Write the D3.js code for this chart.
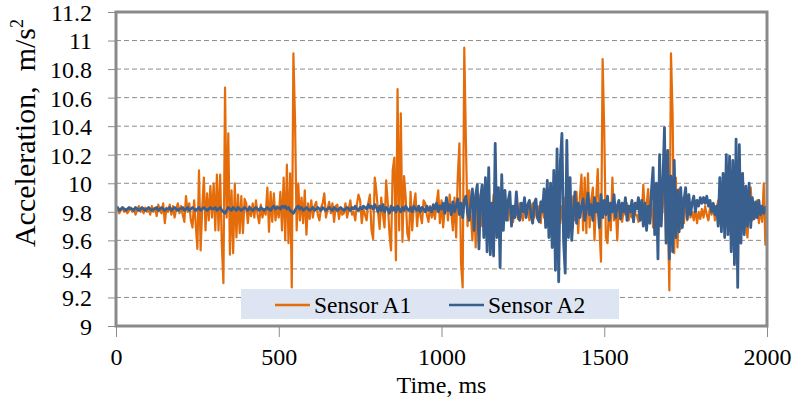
<!DOCTYPE html>
<html>
<head>
<meta charset="utf-8">
<style>
  body { margin: 0; background: #fff; }
</style>
<title>Acceleration</title>
</head>
<body>
<script src="https://cdn.jsdelivr.net/npm/d3@7"></script>
<script>
// sample step of both records, ms
var stepMs = 5;

var xTicks = [0, 500, 1000, 1500, 2000];
var yTicks = [9, 9.2, 9.4, 9.6, 9.8, 10, 10.2, 10.4, 10.6, 10.8, 11, 11.2];
var seriesNames = ["Sensor A1", "Sensor A2"];

// Sensor A1, m/s2, one value every 5 ms from 0 to 2000 ms
var sensorA1 = [
  9.80,9.82,9.79,9.81,9.83,9.80,9.82,9.79,9.81,9.83,9.80,9.82,9.78,9.81,9.84,9.80,9.82,9.79,9.83,9.80,
  9.82,9.78,9.84,9.80,9.83,9.77,9.85,9.81,9.79,9.86,9.72,9.83,9.80,9.85,9.78,9.84,9.76,9.82,9.86,9.79,
  9.84,9.78,9.73,9.91,9.80,9.86,9.74,9.69,9.88,9.71,9.54,10.09,9.53,9.83,10.04,9.67,9.93,9.74,9.98,9.76,
  10.00,9.67,10.06,9.67,10.06,9.58,9.30,10.67,9.76,10.35,9.50,9.95,9.51,10.00,9.62,9.92,9.65,9.91,9.65,9.89,
  9.86,9.72,9.84,9.77,9.86,9.76,9.88,9.78,9.72,9.85,9.76,9.82,9.78,9.97,9.66,9.94,9.73,9.93,9.74,9.84,
  9.76,9.94,9.67,10.04,9.60,10.13,9.58,10.07,9.27,10.91,10.44,9.67,10.00,9.74,9.90,9.72,9.95,9.64,9.86,9.75,
  9.88,9.76,9.84,9.87,9.78,9.74,9.83,9.86,9.93,9.76,9.82,9.87,9.79,9.86,9.73,9.84,9.85,9.75,9.83,9.78,
  9.79,9.86,9.76,9.82,9.88,9.78,9.80,9.74,9.85,9.92,9.88,9.72,9.82,9.78,9.74,9.86,9.92,9.67,9.61,10.04,
  9.94,9.80,9.68,9.90,9.78,9.69,10.02,9.86,9.65,9.53,10.09,10.18,9.46,10.66,9.67,10.49,9.59,10.05,9.90,9.65,
  9.60,9.94,9.67,9.85,9.93,9.70,9.84,9.78,9.72,9.88,9.86,9.78,9.73,9.84,9.76,9.82,9.75,9.86,9.95,9.72,
  9.88,9.69,9.82,9.90,9.74,9.92,9.80,9.67,9.90,9.62,10.05,10.28,9.44,9.27,10.95,10.29,9.70,9.95,9.78,9.60,
  9.90,9.55,9.86,9.72,9.92,9.70,9.85,9.76,9.90,9.68,9.84,9.78,9.92,9.72,9.86,9.74,9.88,9.70,9.84,9.77,
  9.82,9.74,9.86,9.78,9.73,9.84,9.80,9.75,9.86,9.79,9.74,9.83,9.78,9.85,9.74,9.80,9.86,9.76,9.82,9.75,
  9.84,9.72,9.88,9.76,9.90,9.70,9.86,9.74,9.92,9.68,9.85,9.76,9.88,9.72,9.84,9.70,9.90,9.74,9.86,9.72,
  9.80,9.91,9.74,9.94,9.65,9.90,10.06,9.67,10.04,9.65,10.07,9.69,9.88,9.97,9.60,9.88,10.10,9.70,9.45,10.87,
  10.36,9.62,9.58,9.86,9.67,10.04,9.74,9.84,9.60,9.86,9.76,9.73,9.82,9.78,9.86,9.74,9.80,9.76,9.85,9.78,
  9.78,9.73,9.86,9.76,9.99,9.77,9.85,9.96,9.74,9.86,9.69,9.88,9.74,9.67,9.90,9.72,9.84,10.09,9.58,9.86,
  9.25,10.91,10.48,9.51,10.04,9.55,9.96,9.68,9.90,9.72,9.92,9.74,9.86,9.76,9.80,9.74,9.82,9.72,9.80,9.75,
  9.82,9.76,9.84,9.78,9.74,9.83,9.78,9.85,9.74,9.82,9.88,9.72,9.84,9.76,9.90,9.70,9.86,9.74,9.88,9.72,
  9.84,9.74,9.88,9.70,9.86,9.76,9.90,9.72,9.62,9.84,9.97,9.74,9.82,9.76,9.88,9.72,9.82,9.73,10.00,9.57,
  9.86
];

// Sensor A2, m/s2, same sampling
var sensorA2 = [
  9.82,9.83,9.81,9.82,9.83,9.82,9.81,9.82,9.83,9.82,9.82,9.81,9.83,9.82,9.81,9.82,9.83,9.82,9.81,9.82,
  9.83,9.82,9.81,9.82,9.82,9.83,9.81,9.82,9.83,9.82,9.81,9.82,9.82,9.83,9.81,9.82,9.83,9.82,9.81,9.82,
  9.82,9.83,9.81,9.82,9.83,9.81,9.82,9.83,9.82,9.81,9.82,9.83,9.81,9.82,9.83,9.82,9.81,9.82,9.83,9.82,
  9.82,9.83,9.81,9.82,9.83,9.81,9.80,9.79,9.81,9.83,9.82,9.81,9.83,9.82,9.81,9.83,9.82,9.81,9.82,9.83,
  9.82,9.81,9.83,9.82,9.81,9.82,9.83,9.82,9.81,9.83,9.82,9.81,9.82,9.83,9.82,9.81,9.83,9.84,9.82,9.83,
  9.83,9.82,9.84,9.83,9.84,9.82,9.83,9.81,9.80,9.79,9.81,9.83,9.84,9.82,9.83,9.81,9.82,9.83,9.82,9.81,
  9.82,9.83,9.81,9.82,9.83,9.82,9.81,9.83,9.82,9.81,9.82,9.83,9.82,9.81,9.83,9.82,9.81,9.82,9.83,9.82,
  9.81,9.82,9.83,9.82,9.81,9.83,9.82,9.84,9.82,9.81,9.83,9.82,9.84,9.83,9.82,9.85,9.83,9.84,9.82,9.85,
  9.83,9.80,9.84,9.81,9.85,9.80,9.83,9.82,9.79,9.84,9.81,9.83,9.80,9.84,9.82,9.80,9.83,9.81,9.84,9.82,
  9.81,9.83,9.80,9.84,9.82,9.81,9.84,9.80,9.83,9.82,9.80,9.84,9.81,9.83,9.80,9.85,9.82,9.86,9.80,9.84,
  9.82,9.86,9.79,9.90,9.81,9.85,9.78,9.87,9.80,9.84,9.89,9.78,9.86,9.76,9.88,9.91,9.79,9.74,9.86,9.96,
  9.67,9.92,9.99,9.54,9.90,9.99,9.62,10.04,9.52,10.11,9.50,9.86,9.49,10.28,9.62,9.97,9.41,10.06,9.67,9.95,
  9.74,9.88,9.94,9.70,9.84,9.76,9.94,9.78,9.74,9.86,9.80,9.90,9.76,9.85,9.88,9.78,9.72,9.86,9.89,9.76,
  9.73,9.87,9.80,9.96,9.69,10.02,9.62,10.00,9.55,10.09,9.39,10.24,9.31,10.15,10.35,9.60,9.37,10.30,9.62,10.04,
  9.60,9.78,9.94,9.72,9.86,9.76,9.84,9.89,9.74,9.82,9.93,9.78,9.85,9.74,9.90,9.80,9.86,9.69,9.92,9.76,
  9.88,9.78,9.91,9.74,9.86,9.80,9.92,9.76,9.84,9.88,9.75,9.86,9.80,9.90,9.74,9.84,9.80,9.88,9.73,9.86,
  9.82,9.90,9.74,9.88,9.70,9.86,9.67,9.84,9.72,9.95,10.11,9.64,10.00,9.47,10.20,9.70,10.00,10.39,9.58,10.23,
  9.47,10.05,9.52,10.16,9.62,9.95,9.66,9.97,9.69,9.88,9.97,9.75,9.92,9.78,9.86,9.91,9.80,9.88,9.84,9.90,
  9.86,9.90,9.86,9.91,9.84,9.88,9.80,9.86,9.78,9.84,9.70,10.04,9.66,10.07,9.62,10.20,9.64,10.19,9.52,10.16,
  9.43,10.31,9.27,10.27,9.58,10.07,9.64,9.98,9.70,10.00,9.69,9.90,9.75,9.87,9.76,9.88,9.78,9.84,9.79,9.83,
  9.80
];

var colors = ["#e46c0a", "#395f8e"];
var serif = "'Liberation Serif', Tinos, 'Times New Roman', Times, 'DejaVu Serif', serif";

var W = 794, H = 406;
var plot = {left: 116, right: 767, top: 12, bottom: 326};

var x = d3.scaleLinear().domain([0, 2000]).range([plot.left, plot.right]);
var y = d3.scaleLinear().domain([9, 11.2]).range([plot.bottom, plot.top]);

var svg = d3.select("body").append("svg")
  .attr("width", W)
  .attr("height", H)
  .style("font-family", serif);

// dashed grid
svg.append("g")
  .selectAll("line")
  .data(yTicks.slice(1, -1))
  .enter().append("line")
  .attr("x1", plot.left).attr("x2", plot.right)
  .attr("y1", function(d){ return y(d); })
  .attr("y2", function(d){ return y(d); })
  .attr("stroke", "#8c8c8c")
  .attr("stroke-width", 1)
  .attr("stroke-dasharray", "5,3");

// series
var line = d3.line()
  .x(function(d, i){ return x(i * stepMs); })
  .y(function(d){ return y(d); });

svg.append("path")
  .datum(sensorA1)
  .attr("fill", "none")
  .attr("stroke", colors[0])
  .attr("stroke-width", 2.2)
  .attr("stroke-linejoin", "round")
  .attr("d", line);

svg.append("path")
  .datum(sensorA2)
  .attr("fill", "none")
  .attr("stroke", colors[1])
  .attr("stroke-width", 2.8)
  .attr("stroke-linejoin", "round")
  .attr("d", line);

// axes
var yAxis = d3.axisLeft(y).tickValues(yTicks).tickSize(7).tickPadding(16)
  .tickFormat(function(d){ return String(d); });
var gy = svg.append("g")
  .attr("transform", "translate(" + (plot.left - 1) + ",0)")
  .call(yAxis)
  .attr("font-family", serif)
  .attr("font-size", 24);
gy.select(".domain").remove();
gy.selectAll(".tick line").attr("stroke", "#8c8c8c");
gy.selectAll("text").attr("dy", "0.35em").attr("fill", "#000");

var xAxis = d3.axisBottom(x).tickValues(xTicks).tickSize(10)
  .tickFormat(function(d){ return String(d); });
var gx = svg.append("g")
  .attr("transform", "translate(0," + (plot.bottom + 1) + ")")
  .call(xAxis)
  .attr("font-family", serif)
  .attr("font-size", 24);
gx.select(".domain").remove();
gx.selectAll(".tick line").attr("stroke", "#8c8c8c");
gx.selectAll("text").attr("y", 38).attr("dy", null).attr("fill", "#000");

// plot border
svg.append("rect")
  .attr("x", plot.left).attr("y", plot.top)
  .attr("width", plot.right - plot.left).attr("height", plot.bottom - plot.top)
  .attr("fill", "none")
  .attr("stroke", "#8a8a8a")
  .attr("stroke-width", 3);

// axis titles
svg.append("text")
  .attr("x", (plot.left + plot.right) / 2)
  .attr("y", 393)
  .attr("text-anchor", "middle")
  .attr("font-family", serif)
  .attr("font-size", 24)
  .text("Time, ms");

var yt = svg.append("text")
  .attr("transform", "translate(35,133) rotate(-90)")
  .attr("text-anchor", "middle")
  .attr("font-family", serif)
  .attr("font-size", 30);
yt.append("tspan").text("Acceleration,\u00a0 m/s");
yt.append("tspan").attr("font-size", 18).attr("dy", -12).text("2");

// legend
var leg = svg.append("g");
leg.append("rect")
  .attr("x", 241).attr("y", 289)
  .attr("width", 378).attr("height", 30)
  .attr("fill", "#dce5f1");
var items = leg.selectAll("g.item")
  .data(seriesNames)
  .enter().append("g")
  .attr("class", "item")
  .attr("transform", function(d, i){ return "translate(" + (275 + i * 174) + ",305)"; });
items.append("line")
  .attr("x1", 0).attr("x2", 35)
  .attr("stroke", function(d, i){ return colors[i]; })
  .attr("stroke-width", 2.5);
items.append("text")
  .attr("x", 39).attr("y", 8)
  .attr("font-family", serif)
  .attr("font-size", 23.5)
  .text(function(d){ return d; });
</script>
</body>
</html>
